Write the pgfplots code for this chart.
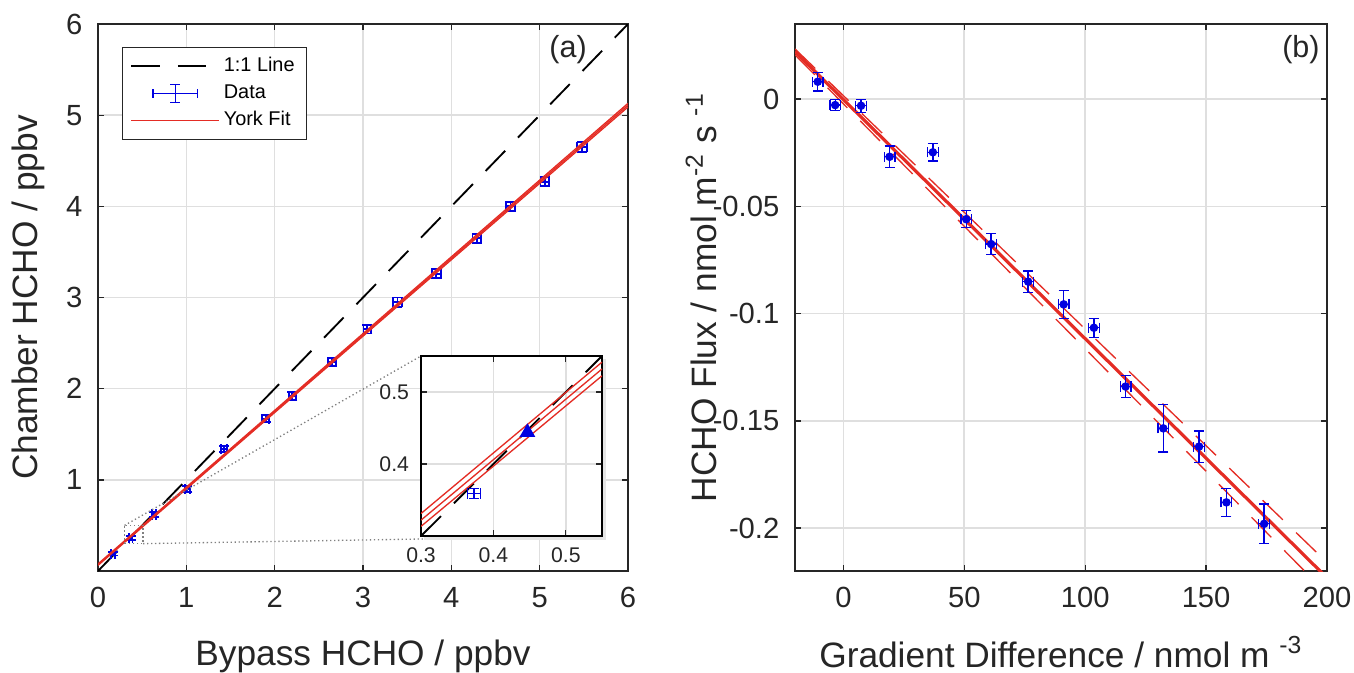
\documentclass[border=0pt]{standalone}
\usepackage{fontspec}
\setmainfont{Liberation Sans}
\usepackage{pgfplots}
\usepackage{pgfplotstable}
\pgfplotsset{compat=1.18}

\definecolor{fitred}{RGB}{228,44,36}
\definecolor{datablue}{RGB}{0,0,225}
\definecolor{gridgray}{RGB}{223,223,223}
\definecolor{boxgray}{RGB}{38,38,38}

\pgfplotsset{
  matlab/.style={
    scale only axis,
    axis line style={boxgray, line width=0.6pt},
    grid=major,
    major grid style={gridgray, line width=0.6pt},
    tick align=inside,
    major tick length=2.3pt,
    tick style={boxgray, line width=0.5pt},
    ticklabel style={font=\fontsize{11}{13}\selectfont, text=boxgray},
    label style={font=\fontsize{13.3}{15}\selectfont, text=boxgray},
    /pgf/number format/assume math mode=true,
    xticklabel shift=2.6pt,
    yticklabel shift=2.4pt,
  },
  bluebars/.style={
    error bars/.cd, x dir=both, x explicit, y dir=both, y explicit,
    error bar style={draw=datablue, solid, line width=#1},
    error mark options={rotate=90, draw=datablue, mark size=1.9pt, line width=#1},
  },
  bluebars/.default=0.5pt,
}

% panel (a): bypass vs chamber
\pgfplotstableread{
x     y     ex    ey
0.17  0.19  0.02  0.02
0.37  0.36  0.02  0.02
0.635 0.62  0.025 0.025
1.01  0.90  0.03  0.03
1.43  1.34  0.035 0.035
1.90  1.67  0.04  0.04
2.20  1.92  0.04  0.04
2.65  2.29  0.045 0.045
3.05  2.65  0.045 0.045
3.39  2.95  0.05  0.05
3.83  3.26  0.05  0.05
4.29  3.65  0.05  0.05
4.67  4.00  0.05  0.05
5.06  4.27  0.05  0.05
5.48  4.65  0.055 0.055
}\chamber

% panel (b): flux vs gradient difference
\pgfplotstableread{
x      y        ex   ey
-10.6  0.0081   2.2  0.0043
-3.4   -0.0028  2.2  0.0025
7.3    -0.0031  2.2  0.003
19.1   -0.0269  2.2  0.005
37.0   -0.0248  2.2  0.004
50.8   -0.056   2.2  0.004
61.1   -0.0676  2.2  0.005
76.4   -0.0851  2.2  0.005
91.1   -0.0957  2.2  0.0065
103.6  -0.1066  2.2  0.0044
116.7  -0.134   2.2  0.0052
132.3  -0.1535  2.2  0.011
147.1  -0.162   2.2  0.0073
158.4  -0.188   2.2  0.0065
174.0  -0.198   2.2  0.0093
}\flux

\begin{document}
\begin{tikzpicture}
\path[use as bounding box] (0pt,0pt) rectangle (510.46pt,-253.72pt);

\begin{axis}[matlab,
  at={(36.95pt,-215.27pt)}, anchor=south west,
  width=199.81pt, height=206.22pt,
  xmin=0, xmax=6, ymin=0, ymax=6,
  xtick={0,...,6}, ytick={1,...,6},
  xlabel={Bypass HCHO / ppbv},
  ylabel={Chamber HCHO / ppbv},
  xlabel style={at={(axis description cs:0.5,-0.156)}, anchor=center},
  ylabel style={at={(axis description cs:-0.131,0.5)}, anchor=center},
  legend style={at={(0.045,0.958)}, anchor=north west, draw=boxgray,
    fill=white, line width=0.5pt, font=\fontsize{7.5}{9}\selectfont,
    inner xsep=3pt, inner ysep=2pt, row sep=0.5pt,
    nodes={inner sep=1.5pt}, cells={anchor=west}},
]
\addplot[black, line width=0.7pt, dash pattern=on 10.6pt off 6.9pt,
  legend image code/.code={\draw[black, line width=0.7pt, dash pattern=on 10.6pt off 6.9pt] (0pt,0pt) -- (33pt,0pt);}]
  coordinates {(0,0) (6,6)};
\addlegendentry{1:1 Line}
\addplot[draw=none, mark=none, bluebars=0.7pt,
  /pgfplots/legend image code/.code={
    \draw[datablue, line width=0.7pt] (8.3pt,0pt) -- (24.9pt,0pt);
    \draw[datablue, line width=0.7pt] (8.3pt,-1.7pt) -- (8.3pt,1.7pt);
    \draw[datablue, line width=0.7pt] (24.9pt,-1.7pt) -- (24.9pt,1.7pt);
    \draw[datablue, line width=0.7pt] (16.6pt,-3.4pt) -- (16.6pt,3.4pt);
    \draw[datablue, line width=0.7pt] (14.7pt,-3.4pt) -- (18.5pt,-3.4pt);
    \draw[datablue, line width=0.7pt] (14.7pt,3.4pt) -- (18.5pt,3.4pt);}]
  table[x=x, y=y, x error=ex, y error=ey] {\chamber};
\addlegendentry{Data}
\addplot[fitred, line width=0.5pt,
  legend image code/.code={\draw[fitred, line width=0.5pt] (0pt,0pt) -- (33pt,0pt);}]
  coordinates {(0,0.070) (6,5.110)};
\addlegendentry{York Fit}
\addplot[fitred, line width=0.5pt, forget plot] coordinates {(0,0.078) (6,5.130)};
\addplot[fitred, line width=0.5pt, forget plot] coordinates {(0,0.062) (6,5.090)};
\node[font=\fontsize{11.5}{13}\selectfont, text=boxgray] at (rel axis cs:0.887,0.954) {(a)};
\draw[gray, densely dotted, line width=0.5pt] (axis cs:0.3,0.3) rectangle (axis cs:0.51,0.5);
\coordinate (zoomtl) at (axis cs:0.3,0.5);
\coordinate (zoombr) at (axis cs:0.51,0.3);
\end{axis}

% connector lines and shadow of the inset
\draw[gray, densely dotted, line width=0.5pt] (zoomtl) -- (158.72pt,-134.21pt);
\draw[gray, densely dotted, line width=0.5pt] (zoombr) -- (226.95pt,-202.07pt);
\fill[black!10] (160.0pt,-135.5pt) rectangle (228.6pt,-203.6pt);

\begin{axis}[matlab,
  at={(158.72pt,-202.07pt)}, anchor=south west,
  width=68.24pt, height=67.86pt,
  xmin=0.3, xmax=0.55, ymin=0.3, ymax=0.55,
  xtick={0.3,0.4,0.5}, ytick={0.3,0.4,0.5},
  xticklabels={0.3,0.4,0.5}, yticklabels={,0.4,0.5},
  ticklabel style={font=\fontsize{8}{9}\selectfont},
  axis line style={black, line width=0.9pt},
  axis background/.style={fill=white},
  xticklabel shift=1pt, yticklabel shift=1pt,
]
\addplot[black, line width=0.7pt, dash pattern=on 10.6pt off 6.9pt] coordinates {(0.3,0.3) (0.55,0.55)};
\addplot[fitred, line width=0.5pt] coordinates {(0.3,0.322) (0.55,0.532)};
\addplot[fitred, line width=0.5pt] coordinates {(0.3,0.3312) (0.55,0.5415)};
\addplot[fitred, line width=0.5pt] coordinates {(0.3,0.3134) (0.55,0.5225)};
\addplot[draw=none, mark=none, bluebars]
  table[x=x, y=y, x error=ex, y error=ey] {
x y ex ey
0.373 0.359 0.009 0.007
};
\addplot[only marks, mark=triangle*, mark size=3pt, color=datablue, fill=datablue]
  coordinates {(0.447,0.444)};
\end{axis}

\begin{axis}[matlab,
  at={(299.72pt,-215.27pt)}, anchor=south west,
  width=200.56pt, height=206.22pt,
  xmin=-20, xmax=200, ymin=-0.22, ymax=0.035,
  xtick={0,50,100,150,200},
  ytick={-0.2,-0.15,-0.1,-0.05,0},
  yticklabels={-0.2,-0.15,-0.1,-0.05,0},
  xlabel={Gradient Difference / nmol m \textsuperscript{-3}},
  ylabel={HCHO Flux / nmol m\textsuperscript{-2} s \textsuperscript{-1}},
  xlabel style={at={(axis description cs:0.5,-0.148)}, anchor=center},
  ylabel style={at={(axis description cs:-0.176,0.5)}, anchor=center},
]
\addplot[fitred, line width=1.2pt] coordinates {(-20,0.0221) (200,-0.2232)};
\addplot[fitred, line width=0.5pt, dash pattern=on 10.6pt off 6.9pt] coordinates {(-20,0.02336) (200,-0.216)};
\addplot[fitred, line width=0.5pt, dash pattern=on 10.6pt off 6.9pt] coordinates {(-20,0.02064) (200,-0.2306)};
\addplot[only marks, mark=*, mark size=1.4pt, color=datablue, fill=datablue, bluebars]
  table[x=x, y=y, x error=ex, y error=ey] {\flux};
\node[font=\fontsize{11.5}{13}\selectfont, text=boxgray] at (rel axis cs:0.951,0.954) {(b)};
\end{axis}
\end{tikzpicture}
\end{document}
